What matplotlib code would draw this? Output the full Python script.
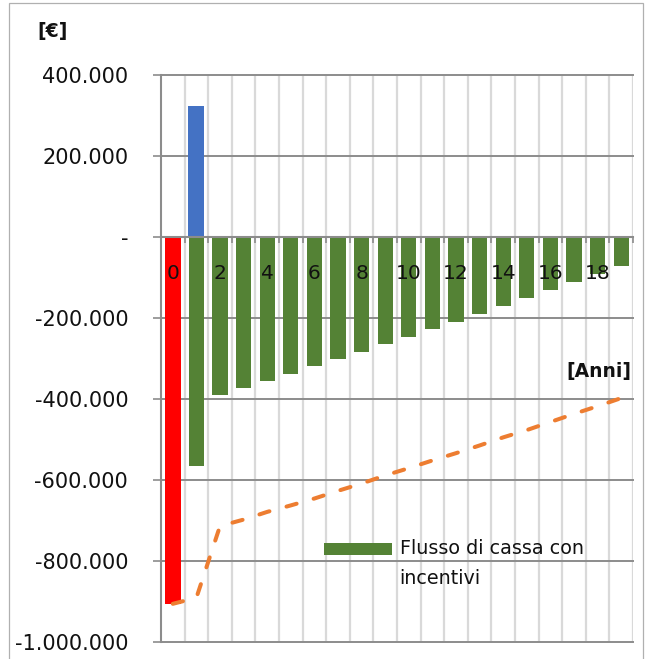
import matplotlib
matplotlib.use("Agg")
import matplotlib.pyplot as plt
from matplotlib.patches import Rectangle
from matplotlib.legend_handler import HandlerPatch

# ---- data (euro) ----
anni = list(range(20))
investimento_anno = [0]
investimento = [-905000]
incentivo_anno = [1]
incentivo = [324000]
flusso_anni = list(range(1, 20))
flusso_con_incentivi = [-565000, -389000, -371000, -354000, -337000, -319000,
                        -301000, -283000, -264000, -246000, -227000, -208000,
                        -189000, -170000, -151000, -131000, -111000, -91000,
                        -70000]
andamento = [-905000, -890000, -713000, -697000, -678000, -662000, -645000,
             -626000, -608000, -588000, -570000, -551000, -533000, -514000,
             -494000, -476000, -456000, -436000, -417000, -397000]

y_ticks = [400000, 200000, 0, -200000, -400000, -600000, -800000, -1000000]
y_labels = ['400.000', '200.000', '-', '-200.000', '-400.000', '-600.000',
            '-800.000', '-1.000.000']
x_tick_pos = [0, 2, 4, 6, 8, 10, 12, 14, 16, 18]
x_tick_labels = ['0', '2', '4', '6', '8', '10', '12', '14', '16', '18']
legend_label = 'Flusso di cassa con\nincentivi'

# ---- style ----
W, H = 645, 659
GRID_DARK = '#8c8c8c'
GRID_LIGHT = '#d9d9d9'
GREEN = '#548235'
TEXT = '#111111'
plt.rcParams['font.family'] = ['DejaVu Sans']

fig = plt.figure(figsize=(W / 100, H / 100), dpi=100)
ax = fig.add_axes([161 / W, 1 - 642.3 / H, 472 / W, (642.3 - 75.3) / H])
ax.set_axisbelow(False)  # tick labels sit on top of the bars

ax.set_xlim(-0.5, 19.5)
ax.set_ylim(-1000000, 400000)

# gridlines behind the bars
for b in [k + 0.5 for k in anni]:
    ax.axvline(b, color=GRID_LIGHT, lw=1.6, zorder=0)
for v in y_ticks:
    ax.axhline(v, color=GRID_DARK, lw=1.4, zorder=0.6, clip_on=False)

# bars
ax.bar(investimento_anno, investimento, width=0.68, color='#FF0000', zorder=2)
ax.bar(incentivo_anno, incentivo, width=0.67, color='#4472C4', zorder=2)
green_bars = ax.bar(flusso_anni, flusso_con_incentivi, width=0.65,
                    color=GREEN, zorder=2)

# dashed trend line
ax.plot(anni, andamento, color='#ED7D31', lw=2.9, dashes=(2.6, 4.4),
        dash_capstyle='round', zorder=3)

# spines
for s in ['top', 'right']:
    ax.spines[s].set_visible(False)
ax.spines['left'].set_color(GRID_DARK)
ax.spines['left'].set_linewidth(1.5)
ax.spines['bottom'].set_position(('data', 0))
ax.spines['bottom'].set_color(GRID_DARK)
ax.spines['bottom'].set_linewidth(1.5)

# y axis
ax.set_yticks(y_ticks)
ax.set_yticklabels(y_labels)
ax.tick_params(axis='y', length=5.8, width=1.2, color=GRID_DARK,
               labelsize=15, labelcolor=TEXT, pad=17.8)

# x axis
ax.set_xticks(x_tick_pos)
ax.set_xticklabels(x_tick_labels)
ax.set_xticks([k + 0.5 for k in anni], minor=True)
ax.tick_params(axis='x', which='major', length=0, labelsize=14.5,
               labelcolor=TEXT, pad=19)
ax.tick_params(axis='x', which='minor', length=4.3, width=1.2,
               color=GRID_DARK, direction='out')

# axis captions
fig.text(52.5 / W, 1 - 31 / H, '[€]', fontsize=13.5, fontweight='bold',
         color=TEXT, ha='center', va='center')
fig.text(599 / W, 1 - 371 / H, '[Anni]', fontsize=13.5, fontweight='bold',
         color=TEXT, ha='center', va='center')


# legend: patch aligned with the first text line
def first_line_patch(legend, orig_handle, xdescent, ydescent, width, height,
                     fontsize):
    return Rectangle((-xdescent, 11.4), width, 9.1)


legend_handle = green_bars.patches[0]
leg = fig.legend([legend_handle], [legend_label], loc='upper left',
                 bbox_to_anchor=(324 / W, 1 - 539 / H),
                 bbox_transform=fig.transFigure, frameon=False,
                 fontsize=13.8, handlelength=3.55, handletextpad=0.4,
                 borderpad=0, borderaxespad=0,
                 handler_map={legend_handle: HandlerPatch(patch_func=first_line_patch)})
for t in leg.get_texts():
    t.set_linespacing(1.75)
    t.set_color(TEXT)

# chart area border
fig.add_artist(Rectangle((8.5 / W, -0.01), (643 - 8.5) / W, 1.01 - 2.5 / H,
                         transform=fig.transFigure, fill=False,
                         ec='#b0b0b0', lw=0.9))

fig.savefig('out.png', dpi=100)
